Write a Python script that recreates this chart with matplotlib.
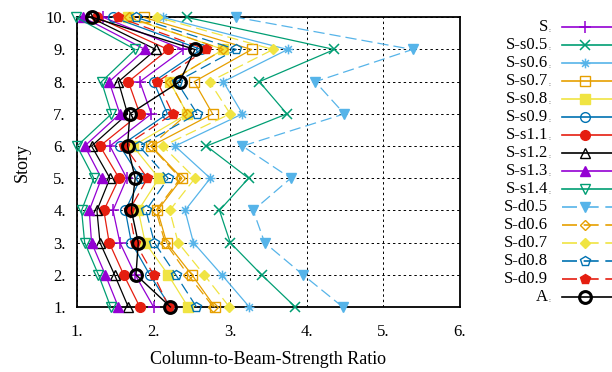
import matplotlib
matplotlib.use("Agg")
import matplotlib.pyplot as plt
from matplotlib.lines import Line2D
from matplotlib.path import Path

plt.rcParams["font.family"] = ["Liberation Serif", "DejaVu Serif"]

stories = [1, 2, 3, 4, 5, 6, 7, 8, 9, 10]

# column-to-beam strength ratio per story (1 .. 10)
ratio_s = [2.00, 1.76, 1.56, 1.47, 1.65, 1.43, 1.97, 1.82, 2.39, 1.34]
ratio_s05 = [3.85, 3.41, 3.00, 2.86, 3.24, 2.69, 3.74, 3.38, 4.36, 2.43]
ratio_s06 = [3.25, 2.89, 2.52, 2.41, 2.74, 2.28, 3.16, 2.91, 3.75, 2.12]
ratio_s07 = [2.80, 2.50, 2.17, 2.05, 2.37, 1.97, 2.77, 2.53, 3.28, 1.87]
ratio_s08 = [2.45, 2.19, 1.89, 1.80, 2.07, 1.73, 2.44, 2.21, 2.91, 1.66]
ratio_s09 = [2.22, 1.95, 1.71, 1.63, 1.83, 1.56, 2.18, 2.00, 2.62, 1.47]
ratio_s11 = [1.82, 1.61, 1.42, 1.35, 1.55, 1.30, 1.82, 1.67, 2.19, 1.26]
ratio_s12 = [1.67, 1.49, 1.30, 1.26, 1.43, 1.19, 1.66, 1.54, 2.03, 1.17]
ratio_s13 = [1.54, 1.37, 1.19, 1.16, 1.32, 1.10, 1.56, 1.42, 1.89, 1.08]
ratio_s14 = [1.44, 1.28, 1.10, 1.06, 1.22, 1.00, 1.45, 1.32, 1.76, 0.99]
ratio_d05 = [4.47, 3.95, 3.45, 3.30, 3.79, 3.16, 4.49, 4.11, 5.38, 3.08]
ratio_d06 = [2.78, 2.45, 2.15, 2.03, 2.35, 1.96, 2.44, 2.21, 2.91, 1.68]
ratio_d07 = [2.99, 2.66, 2.32, 2.21, 2.54, 2.12, 3.00, 2.73, 3.56, 2.05]
ratio_d08 = [2.56, 2.29, 2.01, 1.90, 2.19, 1.81, 2.57, 2.30, 3.08, 1.77]
ratio_d09 = [2.20, 2.00, 1.76, 1.68, 1.92, 1.62, 2.25, 2.05, 2.69, 1.54]
ratio_a = [2.22, 1.77, 1.80, 1.71, 1.76, 1.66, 1.69, 2.34, 2.54, 1.20]

labels = ["S", "S-s0.5", "S-s0.6", "S-s0.7", "S-s0.8", "S-s0.9", "S-s1.1",
          "S-s1.2", "S-s1.3", "S-s1.4", "S-d0.5", "S-d0.6", "S-d0.7",
          "S-d0.8", "S-d0.9", "A"]
series = [ratio_s, ratio_s05, ratio_s06, ratio_s07, ratio_s08, ratio_s09,
          ratio_s11, ratio_s12, ratio_s13, ratio_s14, ratio_d05, ratio_d06,
          ratio_d07, ratio_d08, ratio_d09, ratio_a]

PURPLE, GREEN, SKY, ORANGE = "#9400D3", "#009E73", "#56B4E9", "#E69F00"
YELLOW, BLUE, RED, BLACK = "#F0E442", "#0072B2", "#E51E10", "#000000"

asterisk = Path(
    [(-1, 0), (1, 0), (0, -1), (0, 1), (-0.7, -0.7), (0.7, 0.7), (-0.7, 0.7), (0.7, -0.7)],
    [Path.MOVETO, Path.LINETO] * 4,
)

DASH = (0, (9, 4))
# color, marker, filled, size, dashed
styles = [
    (PURPLE, "+", True, 8, False),
    (GREEN, "x", True, 6.5, False),
    (SKY, asterisk, True, 7, False),
    (ORANGE, "s", False, 7, False),
    (YELLOW, "s", True, 7, False),
    (BLUE, "o", False, 7, False),
    (RED, "o", True, 7, False),
    (BLACK, "^", False, 7.5, False),
    (PURPLE, "^", True, 7.5, False),
    (GREEN, "v", False, 7.5, False),
    (SKY, "v", True, 7.5, True),
    (ORANGE, "D", False, 5.5, True),
    (YELLOW, "D", True, 5.5, True),
    (BLUE, "p", False, 7.5, True),
    (RED, "p", True, 7.5, True),
    (BLACK, "o", False, 8.5, False),
]
# entries written with a trailing colon in the key
with_colon = [True] * 10 + [False] * 5 + [True]

W, H = 612, 372
fig = plt.figure(figsize=(W / 100, H / 100), dpi=100)
ax = fig.add_axes([77 / W, 1 - 307 / H, 383 / W, 289.7 / H])


def style_kwargs(st):
    color, marker, filled, size, dashed = st
    kw = dict(color=color, marker=marker, markersize=size, linewidth=0.9,
              linestyle=DASH if dashed else "-",
              markeredgecolor=color, markeredgewidth=1.0)
    if not filled:
        kw["markerfacecolor"] = "none"
    if marker == "+" or marker == "x" or marker is asterisk:
        kw["markeredgewidth"] = 1.1
    return kw


for name, vals, st in zip(labels, series, styles):
    kw = style_kwargs(st)
    if name == "A":
        kw["markeredgewidth"] = 2.2
        kw["linewidth"] = 1.0
    ax.plot(vals, stories, clip_on=False, zorder=3, **kw)

ax.set_xlim(1, 6)
ax.set_ylim(1, 10)
ax.set_xticks([1, 2, 3, 4, 5, 6])
ax.set_xticklabels(["1.", "2.", "3.", "4.", "5.", "6."])
ax.set_yticks(stories)
ax.set_yticklabels([f"{s}." for s in stories])
ax.tick_params(axis="both", labelsize=12, direction="in", length=0)
ax.tick_params(axis="x", pad=12)
ax.tick_params(axis="y", pad=8)
ax.grid(True, color="black", linestyle=(0, (2.5, 3)), linewidth=0.7)
ax.set_axisbelow(True)
for sp in ax.spines.values():
    sp.set_linewidth(1.3)

ax.set_xlabel("Column-to-Beam-Strength Ratio", fontsize=13, labelpad=8)
fig.text(22 / W, 1 - 162 / H, "Story", rotation=90, fontsize=13,
         ha="center", va="center")

# key drawn at the right of the plot
for i, (name, st) in enumerate(zip(labels, styles)):
    y = 1 - (26.7 + 18.0 * i) / H
    fig.text(548 / W, y, name, fontsize=12, ha="right", va="center")
    if with_colon[i]:
        fig.text(548.5 / W, y - 4 / H, ":", fontsize=5, ha="left", va="center")
    kw = style_kwargs(st)
    if name == "A":
        kw["markeredgewidth"] = 2.2
    marker_kw = {k: v for k, v in kw.items() if k not in ("linestyle", "linewidth")}
    fig.add_artist(Line2D([562 / W, 612 / W], [y, y], transform=fig.transFigure,
                          color=kw["color"], linewidth=1.2,
                          linestyle=kw["linestyle"]))
    fig.add_artist(Line2D([585 / W], [y], transform=fig.transFigure,
                          linestyle="none", **marker_kw))

fig.savefig("out.png", dpi=100)
